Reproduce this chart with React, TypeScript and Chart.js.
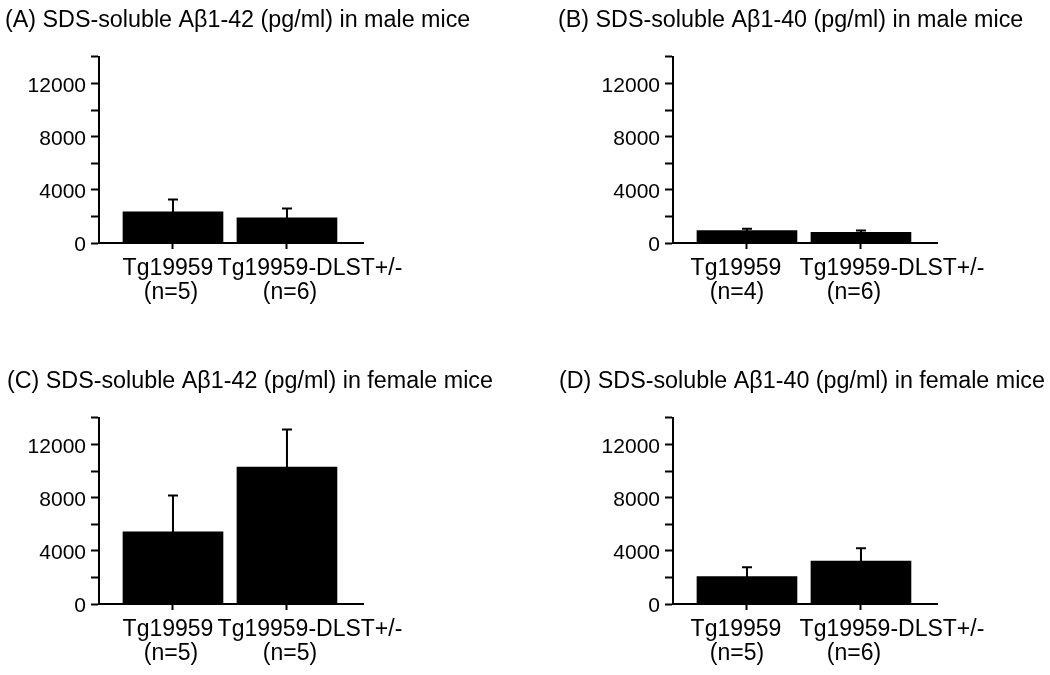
import React, { useEffect, useRef } from 'react';
import { Chart, registerables } from 'chart.js';

Chart.register(...registerables);

// ---- data ----
const groupLabels = ['Tg19959', 'Tg19959-DLST+/-'];

const titleA = '(A) SDS-soluble Aβ1-42 (pg/ml) in male mice';
const titleB = '(B) SDS-soluble Aβ1-40 (pg/ml) in male mice';
const titleC = '(C) SDS-soluble Aβ1-42 (pg/ml) in female mice';
const titleD = '(D) SDS-soluble Aβ1-40 (pg/ml) in female mice';

const nA = ['(n=5)', '(n=6)'];
const nB = ['(n=4)', '(n=6)'];
const nC = ['(n=5)', '(n=5)'];
const nD = ['(n=5)', '(n=6)'];

const meanA = [2350, 1900];
const semA = [920, 700];
const meanB = [930, 800];
const semB = [150, 150];
const meanC = [5440, 10300];
const semC = [2730, 2830];
const meanD = [2070, 3230];
const semD = [690, 970];

const yMin = 0;
const yMax = 14000;
const yStep = 2000;
const yLabelStep = 4000;

const FONT = '"Liberation Sans", Arial, Helvetica, sans-serif';

const errorBarPlugin = {
  id: 'errorBars',
  afterDatasetsDraw(chart: any, _args: any, opts: any) {
    const errors: number[] = opts.errors || [];
    const { ctx } = chart;
    const yScale = chart.scales.y;
    const meta = chart.getDatasetMeta(0);
    const ds = chart.data.datasets[0];
    ctx.save();
    ctx.strokeStyle = '#000';
    ctx.lineWidth = 2;
    meta.data.forEach((bar: any, i: number) => {
      const mean = ds.data[i].y;
      const err = errors[i] || 0;
      const x = bar.x;
      const y0 = yScale.getPixelForValue(mean);
      const y1 = yScale.getPixelForValue(mean + err);
      ctx.beginPath();
      ctx.moveTo(x, y0 + 2);
      ctx.lineTo(x, y1);
      ctx.moveTo(x - 5, y1);
      ctx.lineTo(x + 5, y1);
      ctx.stroke();
    });
    ctx.restore();
  },
};

// two-line category labels under each x tick (group name, sample size)
const categoryLabelPlugin = {
  id: 'categoryLabels',
  afterDraw(chart: any, _args: any, opts: any) {
    const { ctx } = chart;
    const xScale = chart.scales.x;
    const base = chart.chartArea.bottom;
    const lines: string[][] = opts.lines || [];
    const offsets: number[][] = opts.offsets || [];
    const baselines: number[] = opts.baselines || [31.5, 56];
    ctx.save();
    ctx.fillStyle = '#000';
    ctx.font = `23px ${FONT}`;
    ctx.textAlign = 'center';
    ctx.textBaseline = 'alphabetic';
    lines.forEach((ls, i) => {
      const x = xScale.getPixelForValue(i + 1);
      ls.forEach((t, j) => {
        ctx.fillText(t, x + ((offsets[i] && offsets[i][j]) || 0), base + baselines[j]);
      });
    });
    ctx.restore();
  },
};

type PanelProps = {
  title: string;
  means: number[];
  sems: number[];
  ns: string[];
  left: number;
  top: number;
  width: number;
  height: number;
  padLeft: number;
  axisWidth: number;
  padRight: number;
  labelOffsets: number[][];
};

function Panel(p: PanelProps) {
  const ref = useRef<HTMLCanvasElement>(null);
  useEffect(() => {
    if (!ref.current) return;
    const xHeight = p.height - 243;
    const chart = new Chart(ref.current, {
      type: 'bar',
      data: {
        datasets: [
          {
            data: p.means.map((v, i) => ({ x: i + 1, y: v })),
            backgroundColor: '#000',
            borderWidth: 0,
            barThickness: 100,
            yAxisID: 'y',
            xAxisID: 'x',
          } as any,
        ],
      },
      options: {
        responsive: false,
        animation: false,
        devicePixelRatio: 1,
        color: '#000',
        layout: { padding: { left: p.padLeft, right: 0, top: 0, bottom: 0 } },
        plugins: {
          legend: { display: false },
          tooltip: { enabled: false },
          title: {
            display: true,
            text: p.title,
            align: 'start',
            color: '#000',
            font: { family: FONT, size: 23.3, weight: 'normal', lineHeight: 1.2 },
            padding: { top: 6.5, bottom: 22.5 },
          },
          errorBars: { errors: p.sems },
          categoryLabels: {
            lines: groupLabels.map((g, i) => [g, p.ns[i]]),
            offsets: p.labelOffsets,
            baselines: [31.5, 56],
          },
        } as any,
        scales: {
          x: {
            type: 'linear',
            offset: false,
            min: 0.351,
            max: 2.667,
            afterBuildTicks: (scale: any) => {
              scale.ticks = p.means.map((_, i) => ({ value: i + 1 }));
            },
            afterFit: (scale: any) => {
              scale.height = xHeight;
            },
            grid: {
              display: true,
              offset: false,
              drawOnChartArea: false,
              drawTicks: true,
              tickLength: 6,
              tickWidth: 2,
              tickColor: '#000',
              color: '#000',
            },
            border: { display: true, color: '#000', width: 2 },
            ticks: { display: false },
          },
          y: {
            type: 'linear',
            position: 'left',
            min: yMin,
            max: yMax,
            afterFit: (scale: any) => {
              scale.width = p.axisWidth;
            },
            grid: {
              display: true,
              drawOnChartArea: false,
              drawTicks: true,
              tickLength: 8,
              tickWidth: 2,
              tickColor: '#000',
              color: '#000',
            },
            border: { display: true, color: '#000', width: 2 },
            ticks: {
              stepSize: yStep,
              autoSkip: false,
              padding: 5,
              labelOffset: 2.5,
              color: '#000',
              font: { family: FONT, size: 21 },
              callback: (value: any) => (Number(value) % yLabelStep === 0 ? String(value) : ''),
            },
          },
          // empty right-hand spacer: keeps the plot narrow while the title keeps the full canvas width
          spacer: {
            type: 'linear',
            position: 'right',
            display: true,
            min: yMin,
            max: yMax,
            afterFit: (scale: any) => {
              scale.width = p.padRight;
            },
            grid: { display: false, drawTicks: false },
            border: { display: false },
            ticks: { display: false },
          },
        },
      } as any,
      plugins: [errorBarPlugin, categoryLabelPlugin],
    });
    return () => chart.destroy();
  }, []);
  return (
    <div style={{ position: 'absolute', left: p.left, top: p.top, width: p.width, height: p.height }}>
      <canvas ref={ref} width={p.width} height={p.height} style={{ display: 'block' }} />
    </div>
  );
}

const leftOffsets = [[-5, -2], [23, 3]];
const rightOffsets = [[-11, -10], [31, -7]];

export default function App() {
  return (
    <div style={{ position: 'absolute', left: 0, top: 0, width: 1050, height: 675, background: '#fff', overflow: 'hidden' }}>
      <Panel title={titleA} means={meanA} sems={semA} ns={nA} left={0} top={0} width={525} height={337} padLeft={5} axisWidth={94} padRight={162} labelOffsets={leftOffsets} />
      <Panel title={titleB} means={meanB} sems={semB} ns={nB} left={525} top={0} width={525} height={337} padLeft={33} axisWidth={115} padRight={113} labelOffsets={rightOffsets} />
      <Panel title={titleC} means={meanC} sems={semC} ns={nC} left={0} top={361} width={525} height={314} padLeft={7} axisWidth={92} padRight={162} labelOffsets={leftOffsets} />
      <Panel title={titleD} means={meanD} sems={semD} ns={nD} left={525} top={361} width={525} height={314} padLeft={34} axisWidth={114} padRight={113} labelOffsets={rightOffsets} />
    </div>
  );
}
